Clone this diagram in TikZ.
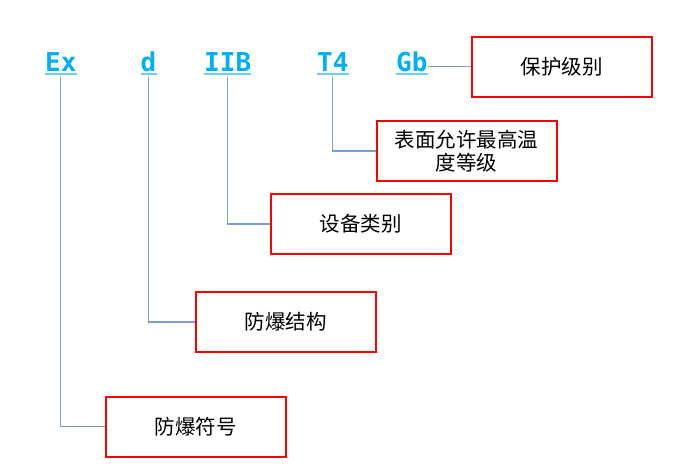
\documentclass[tikz,border=0pt]{standalone}
\usepackage{fontspec}
\newfontfamily\cjk{Noto Sans CJK SC}
\newfontfamily\codefont{DejaVu Sans Mono}
\definecolor{labelblue}{HTML}{00B0F0}
\definecolor{ulblue}{HTML}{6CCDF2}
\definecolor{connblue}{HTML}{7C9DD0}
\definecolor{boxred}{HTML}{FF0000}
\begin{document}
\begin{tikzpicture}[x=1pt,y=-1pt,
  code/.style={inner sep=0pt, anchor=base west, text=labelblue, font=\codefont\bfseries\fontsize{26}{28}\selectfont},
  redbox/.style={draw=boxred, line width=2pt, minimum width=180pt, minimum height=60pt, inner sep=2pt, align=center, font=\cjk\fontsize{20.5}{23}\selectfont},
  conn/.style={draw=connblue, line width=1.2pt},
  uline/.style={draw=ulblue, line width=1.6pt}]
\useasboundingbox (0,0) rectangle (681,469);
% labels
\node[code] (ex) at (45,71.5) {Ex};
\node[code] (d) at (140.5,71.5) {d};
\node[code] (iib) at (204,71.5) {IIB};
\node[code] (t4) at (317,71.5) {T4};
\node[code] (gb) at (396,71.5) {Gb};
\foreach \n in {ex,d,iib,t4,gb}{
  \draw[uline] ([yshift=-2.5pt]\n.base west) -- ([yshift=-2.5pt]\n.base east);
}
% boxes
\node[redbox] (b1) at (561.5,66.5) {保护级别};
\node[redbox] (b2) at (466.5,151) {表面允许最高温\\度等级};
\node[redbox] (b3) at (360.5,224) {设备类别};
\node[redbox] (b4) at (285.7,322) {防爆结构};
\node[redbox] (b5) at (195.7,426.7) {防爆符号};
% connectors
\draw[conn] (gb.east |- b1.west) -- (b1.west);
\draw[conn] ([yshift=-5pt]t4.base) |- (b2.west);
\draw[conn] ([yshift=-5pt]iib.base) |- (b3.west);
\draw[conn] ([yshift=-5pt]d.base) |- (b4.west);
\draw[conn] ([yshift=-5pt]ex.base) |- (b5.west);
\end{tikzpicture}
\end{document}
